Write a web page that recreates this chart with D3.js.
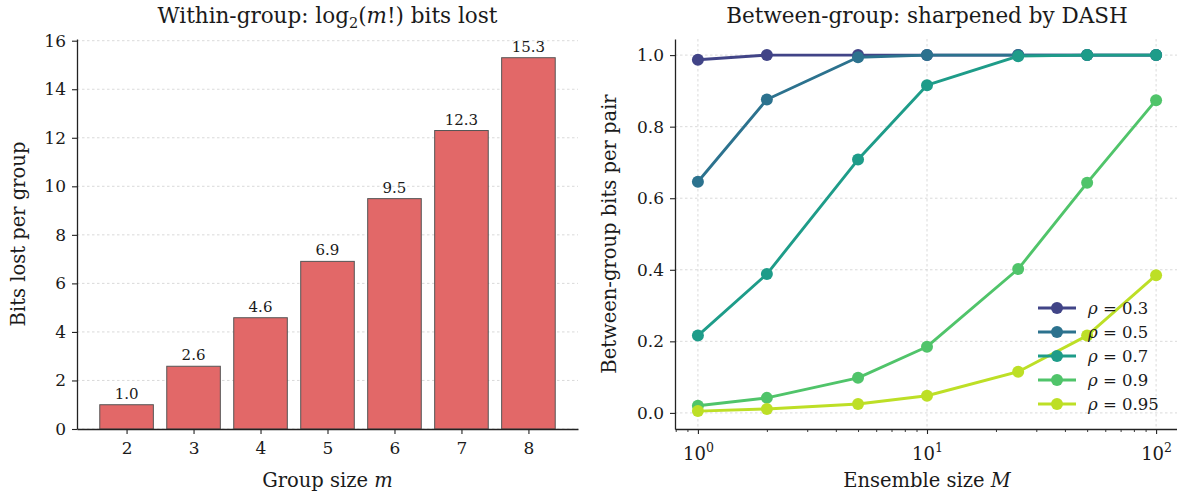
<!DOCTYPE html>
<html>
<head>
<meta charset="utf-8">
<script src="https://cdn.jsdelivr.net/npm/d3@7"></script>
<style>
  body { margin: 0; background: #fff; }
  text { font-family: "DejaVu Serif", "Liberation Serif", serif; fill: #1a1a1a; }
</style>
</head>
<body>
<svg id="fig"></svg>
<script>
// left panel: bits lost within a group
const groupSizes = [2, 3, 4, 5, 6, 7, 8];
const bitsLost = [1.0, 2.585, 4.585, 6.907, 9.492, 12.299, 15.299];
const leftYTicks = [0, 2, 4, 6, 8, 10, 12, 14, 16];

// right panel: between-group bits per pair
const ensembleSizes = [1, 2, 5, 10, 25, 50, 100];
const rhoLabels = ['0.3', '0.5', '0.7', '0.9', '0.95'];
const rho03 = [0.987, 1.0, 1.0, 1.0, 1.0, 1.0, 1.0];
const rho05 = [0.646, 0.876, 0.994, 1.0, 1.0, 1.0, 1.0];
const rho07 = [0.216, 0.388, 0.708, 0.916, 0.997, 1.0, 1.0];
const rho09 = [0.020, 0.042, 0.098, 0.185, 0.402, 0.643, 0.874];
const rho095 = [0.005, 0.011, 0.025, 0.048, 0.115, 0.216, 0.385];
const rightYTicks = [0.0, 0.2, 0.4, 0.6, 0.8, 1.0];
const rightXTicks = [1, 10, 100];

(function() {
  const W = 1177, H = 492,
    top = 39, bottom = 429,
    font = '"DejaVu Serif", serif',
    tickFs = 17, labelFs = 19.5, titleFs = 21.5,
    lw = 2.9, mr = 6;
  const svg = d3.select('#fig').attr('width', W).attr('height', H);
  const gridStyle = (sel) => sel
    .attr('stroke', '#d0d0d0')
    .attr('stroke-width', 0.8)
    .attr('stroke-dasharray', '2.5,2.5');
  const styleAxis = (g, fs) => {
    g.selectAll('path.domain').attr('stroke', '#222').attr('stroke-width', 1.3);
    g.selectAll('.tick line').attr('stroke', '#222').attr('stroke-width', 1.1);
    g.selectAll('.tick text').attr('font-size', fs).attr('font-family', font).attr('fill', '#1a1a1a');
  };

  // ---------- left panel ----------
  const L = { x0: 77, x1: 578 };
  const xL = d3.scaleLinear().domain([1.26, 8.74]).range([L.x0, L.x1]);
  const yL = d3.scaleLinear().domain([0, 16.07]).range([bottom, top]);

  svg.append('g').selectAll('line').data(leftYTicks).enter().append('line')
    .attr('x1', L.x0).attr('x2', L.x1)
    .attr('y1', (d) => yL(d)).attr('y2', (d) => yL(d))
    .call(gridStyle);

  svg.append('g').selectAll('rect').data(groupSizes).enter().append('rect')
    .attr('x', (d) => xL(d - 0.4))
    .attr('width', xL(0.8) - xL(0))
    .attr('y', (d, i) => yL(bitsLost[i]))
    .attr('height', (d, i) => yL(0) - yL(bitsLost[i]))
    .attr('fill', '#e26868')
    .attr('stroke', '#555')
    .attr('stroke-width', 1);

  svg.append('g').selectAll('text').data(groupSizes).enter().append('text')
    .attr('x', (d) => xL(d))
    .attr('y', (d, i) => yL(bitsLost[i]) - 6)
    .attr('text-anchor', 'middle')
    .attr('font-size', 15)
    .text((d, i) => bitsLost[i].toFixed(1));

  const axL = svg.append('g').attr('transform', 'translate(' + L.x0 + ',0)')
    .call(d3.axisLeft(yL).tickValues(leftYTicks).tickSize(5).tickSizeOuter(0).tickPadding(6).tickFormat(d3.format('d')));
  styleAxis(axL, tickFs);
  const axLb = svg.append('g').attr('transform', 'translate(0,' + bottom + ')')
    .call(d3.axisBottom(xL).tickValues(groupSizes).tickSize(5).tickSizeOuter(0).tickPadding(8).tickFormat(d3.format('d')));
  styleAxis(axLb, tickFs);

  const tL = svg.append('text').attr('x', (L.x0 + L.x1) / 2).attr('y', 23)
    .attr('text-anchor', 'middle').attr('font-size', titleFs);
  tL.append('tspan').text('Within-group: log');
  tL.append('tspan').attr('font-size', 14.5).attr('dy', 5).text('2');
  tL.append('tspan').attr('dy', -5).text('(');
  tL.append('tspan').attr('font-style', 'italic').text('m');
  tL.append('tspan').text('!) bits lost');

  const xlL = svg.append('text').attr('x', (L.x0 + L.x1) / 2).attr('y', 487)
    .attr('text-anchor', 'middle').attr('font-size', labelFs);
  xlL.append('tspan').text('Group size ');
  xlL.append('tspan').attr('font-style', 'italic').text('m');

  svg.append('text')
    .attr('transform', 'translate(25,' + (top + bottom) / 2 + ') rotate(-90)')
    .attr('text-anchor', 'middle').attr('font-size', labelFs)
    .text('Bits lost per group');

  // ---------- right panel ----------
  const R = { x0: 675, x1: 1179 };
  const xR = d3.scaleLog().domain([Math.pow(10, -0.1), Math.pow(10, 2.1)]).range([R.x0, R.x1]);
  const yR = d3.scaleLinear().domain([-0.045, 1.045]).range([bottom, top]);

  svg.append('g').selectAll('line').data(rightYTicks).enter().append('line')
    .attr('x1', R.x0).attr('x2', R.x1)
    .attr('y1', (d) => yR(d)).attr('y2', (d) => yR(d))
    .call(gridStyle);
  svg.append('g').selectAll('line').data(rightXTicks).enter().append('line')
    .attr('x1', (d) => xR(d)).attr('x2', (d) => xR(d))
    .attr('y1', top).attr('y2', bottom)
    .call(gridStyle);

  const series = [rho03, rho05, rho07, rho09, rho095];
  const colors = [0.2, 0.375, 0.55, 0.725, 0.9].map((t) => d3.interpolateViridis(t));
  const line = d3.line().x((d, i) => xR(ensembleSizes[i])).y((d) => yR(d));

  series.forEach((vals, k) => {
    const g = svg.append('g');
    g.append('path').datum(vals)
      .attr('d', line)
      .attr('fill', 'none')
      .attr('stroke', colors[k])
      .attr('stroke-width', lw)
      .attr('stroke-linejoin', 'round');
    g.selectAll('circle').data(vals).enter().append('circle')
      .attr('cx', (d, i) => xR(ensembleSizes[i]))
      .attr('cy', (d) => yR(d))
      .attr('r', mr)
      .attr('fill', colors[k]);
  });

  const axR = svg.append('g').attr('transform', 'translate(' + R.x0 + ',0)')
    .call(d3.axisLeft(yR).tickValues(rightYTicks).tickSize(5).tickSizeOuter(0).tickPadding(6).tickFormat(d3.format('.1f')));
  styleAxis(axR, tickFs);

  const minorTicks = [0.8, 0.9, 2, 3, 4, 5, 6, 7, 8, 9, 20, 30, 40, 50, 60, 70, 80, 90];
  const axRm = svg.append('g').attr('transform', 'translate(0,' + bottom + ')')
    .call(d3.axisBottom(xR).tickValues(minorTicks).tickSize(3).tickSizeOuter(0).tickFormat(''));
  styleAxis(axRm, tickFs);
  axRm.selectAll('.tick line').attr('stroke-width', 0.9);
  const axRb = svg.append('g').attr('transform', 'translate(0,' + bottom + ')')
    .call(d3.axisBottom(xR).tickValues(rightXTicks).tickSize(5).tickSizeOuter(0).tickFormat(''));
  styleAxis(axRb, tickFs);
  axRb.selectAll('path.domain').remove();
  axRb.selectAll('.tick').append('text')
    .attr('y', 31).attr('text-anchor', 'middle').attr('font-size', 18)
    .attr('font-family', font).attr('fill', '#1a1a1a')
    .each(function(d) {
      const t = d3.select(this);
      t.append('tspan').text('10');
      t.append('tspan').attr('font-size', 12.5).attr('dy', -8).text(Math.round(Math.log10(d)));
    });

  svg.append('text').attr('x', (R.x0 + R.x1) / 2).attr('y', 23)
    .attr('text-anchor', 'middle').attr('font-size', titleFs)
    .text('Between-group: sharpened by DASH');

  const xlR = svg.append('text').attr('x', (R.x0 + R.x1) / 2).attr('y', 487)
    .attr('text-anchor', 'middle').attr('font-size', labelFs);
  xlR.append('tspan').text('Ensemble size ');
  xlR.append('tspan').attr('font-style', 'italic').text('M');

  svg.append('text')
    .attr('transform', 'translate(616,' + (top + bottom) / 2 + ') rotate(-90)')
    .attr('text-anchor', 'middle').attr('font-size', labelFs)
    .text('Between-group bits per pair');

  // legend
  const leg = svg.append('g').attr('transform', 'translate(1038,308)');
  rhoLabels.forEach((lab, k) => {
    const row = leg.append('g').attr('transform', 'translate(0,' + k * 24 + ')');
    row.append('line').attr('x1', 0).attr('x2', 38).attr('y1', 0).attr('y2', 0)
      .attr('stroke', colors[k]).attr('stroke-width', lw);
    row.append('circle').attr('cx', 19).attr('cy', 0).attr('r', mr).attr('fill', colors[k]);
    const t = row.append('text').attr('x', 50).attr('y', 5.5).attr('font-size', 16.5);
    t.append('tspan').attr('font-style', 'italic').text('ρ');
    t.append('tspan').text(' = ' + lab);
  });
})();
</script>
</body>
</html>
